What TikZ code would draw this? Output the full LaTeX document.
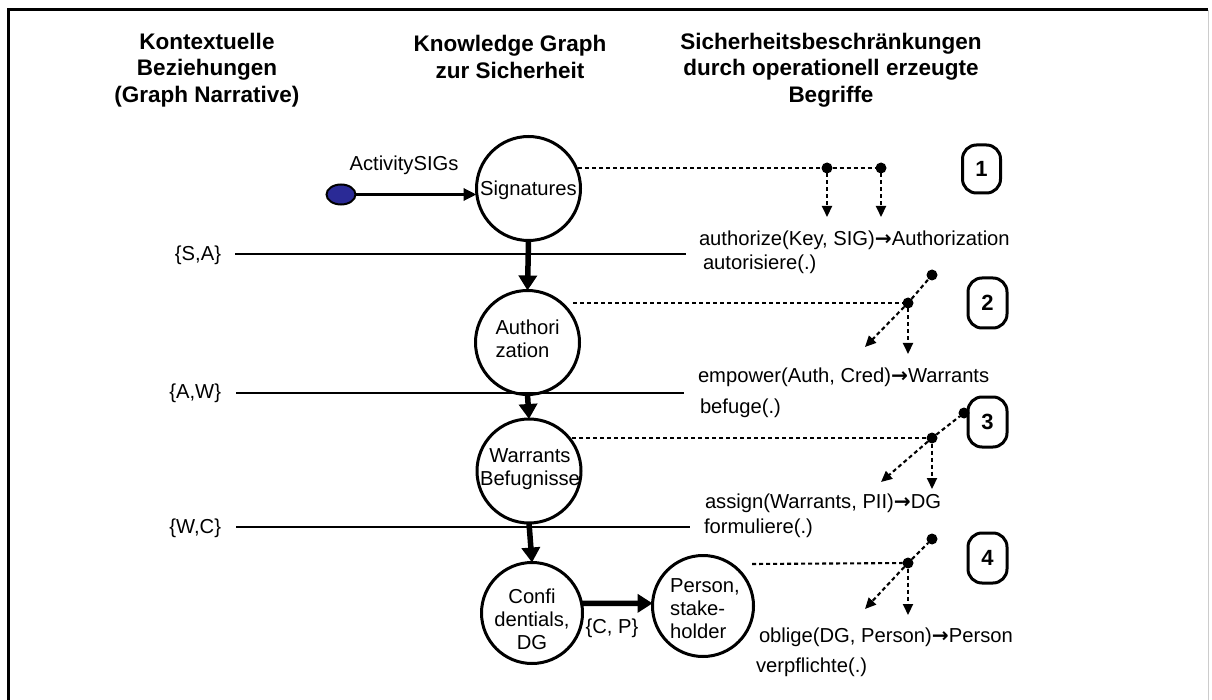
\documentclass[tikz,border=0pt]{standalone}
\usepackage{fontspec}
\setmainfont{Liberation Sans}
\newfontfamily\symfont{DejaVu Sans}
\usetikzlibrary{arrows.meta,shapes.geometric}
\definecolor{srcblue}{HTML}{2A2A96}
\newcommand{\yields}{{\symfont\bfseries →}}
\begin{document}
\begin{tikzpicture}[x=1pt,y=-1pt,
  every node/.style={inner sep=0pt, outer sep=0pt},
  head/.style={font=\fontsize{22.5}{26.5}\selectfont\bfseries, align=center},
  body/.style={font=\fontsize{20.2}{23}\selectfont},
  circ/.style={circle, draw, line width=3pt, minimum size=104pt},
  flow/.style={line width=5.5pt, -{Triangle[length=15pt,width=18pt]}},
  feed/.style={line width=3.2pt, -{Triangle[length=13pt,width=12pt]}},
  sepline/.style={line width=2.2pt},
  dots/.style={line width=2.1pt, dash pattern=on 4pt off 3pt},
  darr/.style={dots, -{Triangle[length=11pt,width=10pt]}},
  dot/.style={circle, fill, minimum size=11pt},
  numbox/.style={draw, line width=3pt, rounded corners=14pt,
    minimum width=39pt, minimum height=50pt,
    font=\fontsize{22}{26}\selectfont\bfseries}
]
\useasboundingbox (0,0) rectangle (1212,700);

% frame
\draw[line width=3pt] (8,705) -- (8,10) -- (1208,10);
\draw[line width=1pt, black!20] (1208,10) -- (1208,705);

% column headings
\node[head] (h1) at (207,70) {Kontextuelle\\Beziehungen\\(Graph Narrative)};
\node[head] (h2) at (510,57) {Knowledge Graph\\zur Sicherheit};
\node[head] (h3) at (831,70) {Sicherheitsbeschränkungen\\durch operationell erzeugte\\Begriffe};

% knowledge graph nodes
\node[circ] (sig) at (528.5,188.5) {};
\node[circ] (auth) at (527.5,342.5) {};
\node[circ] (warr) at (529,471) {};
\node[circ, minimum size=101pt] (conf) at (532,613) {};
\node[circ, minimum size=101pt] (pers) at (703,606) {};

\node[body] (sigT) at (528.5,190) {Signatures};
\node[body, align=left] (authT) at (527.5,338.5) {Authori\\zation};
\node[body, align=center] (warrT) at (530,469) {Warrants\\Befugnisse};
\node[body, align=center] (confT) at (532,619) {Confi\\dentials,\\DG};
\node[body, align=left] (persT) at (705,609) {Person,\\stake-\\holder};

% source of the activity signatures
\node[ellipse, draw, fill=srcblue, line width=2pt, minimum width=29pt, minimum height=20pt] (src) at (341,194.5) {};
\node[body] (srcT) at (404,165) {ActivitySIGs};
\draw[feed] (src.east) -- (src.east -| sig.west);

% flow between the graph nodes
\draw[flow] (sig.south) -- (auth.north);
\draw[flow] (auth.south) -- (warr.north);
\draw[flow] (warr.south) -- (conf.north);
\draw[flow] (conf.11) -- (pers.177);
\node[body] (cp) at (612,628) {\{C, P\}};

% context separators
\node[body, anchor=east] (lSA) at (221,255) {\{S,A\}};
\node[body, anchor=east] (lAW) at (221,393) {\{A,W\}};
\node[body, anchor=east] (lWC) at (221,528) {\{W,C\}};
\coordinate (sa1) at (235,254); \coordinate (sa2) at (686,254);
\coordinate (aw1) at (236,393); \coordinate (aw2) at (684,393);
\coordinate (wc1) at (236,527); \coordinate (wc2) at (690,527);
\draw[sepline] (sa1) -- (sa2);
\draw[sepline] (aw1) -- (aw2);
\draw[sepline] (wc1) -- (wc2);

% constraint 1
\coordinate (d1s) at (578,168);
\node[dot] (p1a) at (827,168) {};
\node[dot] (p1b) at (881,168) {};
\coordinate (a1a) at (827,217); \coordinate (a1b) at (881,217);
\draw[dots] (d1s) -- (p1a);
\draw[dots] (p1a) -- (p1b);
\draw[darr] (p1a) -- (a1a);
\draw[darr] (p1b) -- (a1b);
\node[numbox, minimum width=38pt, minimum height=48pt] (n1) at (981.5,169) {1};
\node[body, anchor=west] (t1a) at (699,240) {authorize(Key, SIG)\yields Authorization};
\node[body, anchor=west] (t1b) at (703,264) {autorisiere(.)};

% constraint 2
\coordinate (d2s) at (573,303);
\node[dot] (p2) at (908,303) {};
\node[dot] (p2t) at (932,275) {};
\coordinate (a2a) at (865,347); \coordinate (a2b) at (908,354);
\draw[dots] (d2s) -- (p2);
\draw[dots] (p2) -- (p2t);
\draw[darr] (p2) -- (a2a);
\draw[darr] (p2) -- (a2b);
\node[numbox] (n2) at (987.5,303) {2};
\node[body, anchor=west] (t2a) at (698,377) {empower(Auth, Cred)\yields Warrants};
\node[body, anchor=west] (t2b) at (700,408) {befuge(.)};

% constraint 3
\coordinate (d3s) at (572,438);
\node[dot] (p3) at (932,438) {};
\node[dot] (p3t) at (964,413) {};
\coordinate (a3a) at (881,482); \coordinate (a3b) at (932,489);
\draw[dots] (d3s) -- (p3);
\draw[dots] (p3) -- (p3t);
\draw[darr] (p3) -- (a3a);
\draw[darr] (p3) -- (a3b);
\node[numbox] (n3) at (987.5,422) {3};
\node[body, anchor=west] (t3a) at (705,503) {assign(Warrants, PII)\yields DG};
\node[body, anchor=west] (t3b) at (704,528) {formuliere(.)};

% constraint 4
\coordinate (d4s) at (752,564);
\node[dot] (p4) at (908,563) {};
\node[dot] (p4t) at (932,539) {};
\coordinate (a4a) at (865,609); \coordinate (a4b) at (908,615);
\draw[dots] (d4s) -- (p4);
\draw[dots] (p4) -- (p4t);
\draw[darr] (p4) -- (a4a);
\draw[darr] (p4) -- (a4b);
\node[numbox] (n4) at (987.5,558) {4};
\node[body, anchor=west] (t4a) at (759,637) {oblige(DG, Person)\yields Person};
\node[body, anchor=west] (t4b) at (756,667) {verpflichte(.)};
\end{tikzpicture}
\end{document}
